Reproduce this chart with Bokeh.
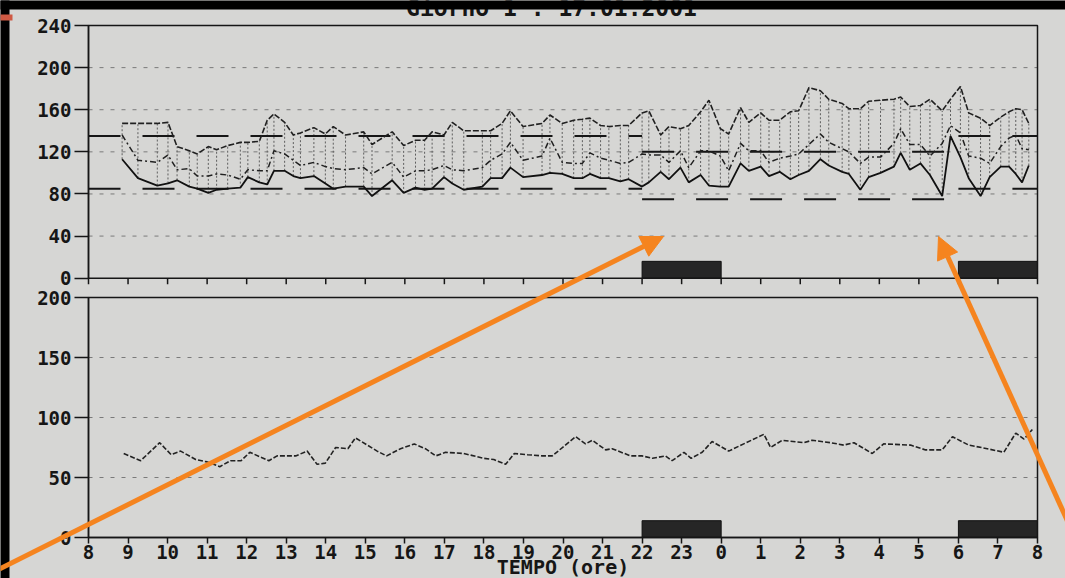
from bokeh.plotting import figure
from bokeh.models import (Range1d, FixedTicker, Arrow, NormalHead, BoxAnnotation, Label, LinearAxis)
from bokeh.embed import file_html
from bokeh.resources import INLINE

# ---------------- data (hours after 08:00) ----------------
bp_time = [0.85, 1.25, 1.74, 2.01, 2.24, 2.55, 2.75, 3.03, 3.24, 3.52, 3.84, 4.03, 4.32, 4.52, 4.69, 4.96, 5.18,
           5.36, 5.70, 5.99, 6.19, 6.50, 6.96, 7.17, 7.68, 7.97, 8.27, 8.50, 8.69, 8.99, 9.20, 9.49, 9.96,
           10.17, 10.46, 10.67, 10.99, 11.47, 11.67, 11.98, 12.27, 12.49, 12.68, 12.95, 13.16, 13.45, 13.66,
           14.00, 14.17, 14.47, 14.68, 14.97,
           15.18, 15.48, 15.69, 15.98, 16.19, 16.49, 16.70, 17.00, 17.21, 17.48, 17.75, 17.96, 18.22, 18.51,
           18.72, 19.06, 19.23, 19.52, 19.73, 20.03,
           20.37, 20.54, 20.77, 21.04, 21.28, 21.59, 21.80, 22.05, 22.26, 22.56, 22.79, 23.07, 23.28, 23.45,
           23.61, 23.78]
systolic = [147, 147, 147, 148, 125, 121, 118, 125, 122, 126, 129, 129, 130, 150, 156, 148, 136,
            138, 143, 137, 144, 136, 139, 127, 139, 126, 131, 131, 139, 136, 148, 140, 140,
            140, 147, 159, 144, 147, 155, 147, 150, 151, 152, 145, 144, 145, 145, 157, 159, 136, 144, 142,
            145, 158, 169, 142, 137, 162, 148, 157, 150, 150, 158, 159, 181, 178, 170, 166, 161, 161, 168, 169,
            170, 172, 163, 164, 170, 159, 170, 182, 157, 152, 145, 153, 158, 161, 160, 147]
mean_bp = [136, 112, 110, 117, 103, 104, 97, 97, 99, 98, 94, 103, 102, 102, 121, 118, 112,
           107, 110, 106, 104, 103, 105, 99, 110, 96, 102, 102, 103, 107, 103, 102, 105,
           112, 118, 129, 112, 116, 133, 110, 109, 109, 119, 114, 112, 109, 110, 118, 117, 117, 110, 121,
           105, 121, 121, 116, 102, 128, 121, 121, 110, 114, 116, 118, 127, 137, 129, 123, 120, 109, 115, 115,
           128, 142, 127, 127, 116, 128, 145, 138, 116, 114, 109, 125, 133, 136, 123, 122]
diastolic = [113, 95, 88, 90, 93, 87, 85, 81, 84, 85, 86, 96, 91, 89, 102, 102, 97,
             95, 97, 90, 85, 87, 87, 78, 93, 81, 86, 84, 85, 96, 90, 84, 87,
             95, 95, 105, 96, 98, 100, 99, 95, 95, 99, 95, 95, 92, 94, 87, 91, 101, 94, 105,
             91, 98, 88, 87, 87, 109, 102, 106, 97, 101, 94, 98, 102, 113, 107, 101, 99, 84, 96, 100,
             106, 119, 103, 109, 98, 78, 135, 115, 95, 78, 96, 106, 106, 99, 91, 107]

hr_time = [0.89, 1.32, 1.80, 2.09, 2.33, 2.71, 3.00, 3.32, 3.59, 3.86, 4.08, 4.56, 4.77, 5.24, 5.53, 5.78,
           5.99, 6.25, 6.56, 6.75, 7.30, 7.54, 7.89, 8.24, 8.52, 8.78, 9.03, 9.49, 10.00, 10.25, 10.55, 10.77,
           11.10, 11.47, 11.73, 12.06, 12.32, 12.57, 12.74, 13.08, 13.24, 13.71, 14.00, 14.26, 14.59, 14.76,
           15.06, 15.24, 15.52, 15.77, 16.19, 16.57, 17.08, 17.25, 17.54, 18.09, 18.30, 18.77, 19.10, 19.36,
           19.82, 20.11, 20.79, 21.17, 21.59, 21.85, 22.26, 22.73, 23.15, 23.45, 23.66, 23.87]
heart_rate = [70, 64, 79, 69, 72, 65, 63, 59, 64, 64, 71, 64, 68, 68, 72, 61, 62, 75, 74, 83,
              72, 68, 74, 78, 74, 68, 71, 70, 66, 65, 61, 70, 69, 68, 68, 77, 84, 78, 81, 73,
              74, 68, 68, 66, 68, 64, 71, 66, 71, 80, 72, 78, 86, 75, 81, 79, 81, 79, 77, 79,
              70, 78, 77, 73, 73, 84, 77, 74, 71, 87, 82, 90]

hour_ticks = list(range(25))
hour_labels = [str((8 + h) % 24) for h in hour_ticks]
bp_ticks = [0, 40, 80, 120, 160, 200, 240]
hr_ticks = [0, 50, 100, 150, 200]

limit_start = [0, 14, 22]
limit_end = [14, 22, 24]
limit_upper = [135, 120, 135]
limit_lower = [85, 75, 85]

mark_start = [14, 22]
mark_end = [16, 24]

title_text = "Giorno 1 : 17.01.2001"
x_title = "TEMPO (ore)"

# ---------------- style / geometry (canvas pixels) ----------------
BG = "#d6d6d4"
INK = "#161616"
ORANGE = "#f5841f"
FONT = "DejaVu Sans Mono"

W, H = 1065, 578
FL, FR = 88.0, 1037.0          # panel left / right
TT, TB = 25.0, 277.7           # top panel top / bottom
BT, BB = 297.0, 537.0          # bottom panel top / bottom
HOURS, BP_MAX, HR_MAX = 24.0, 240.0, 200.0

xs = (FR - FL) / HOURS
ts = (TB - TT) / BP_MAX
bs = (BB - BT) / HR_MAX


def tx(px):
    return (px - FL) / xs


def ty(py):
    return (TB - py) / ts


def by(py):
    return (BB - py) / bs


p = figure(width=W, height=H, x_range=Range1d(tx(0), tx(W)), y_range=Range1d(ty(H), ty(0)),
           output_backend="svg", toolbar_location=None, x_axis_type=None, y_axis_type=None,
           min_border_left=0, min_border_right=0, min_border_top=0, min_border_bottom=0,
           background_fill_color=BG, border_fill_color=BG, outline_line_color=None)
p.extra_y_ranges = {"hr": Range1d(by(H), by(0))}


def style_axis(ax, tick_out):
    ax.major_tick_out = tick_out
    ax.major_tick_in = 0
    ax.minor_tick_out = 0
    ax.minor_tick_in = 0
    ax.major_tick_line_width = 1.5
    ax.major_tick_line_color = INK
    ax.axis_line_width = 1.5
    ax.axis_line_color = INK
    ax.major_label_text_font = FONT
    ax.major_label_text_font_size = "19px"
    ax.major_label_text_font_style = "bold"
    ax.major_label_text_color = INK


ay_top = LinearAxis(fixed_location=0, bounds=(0, BP_MAX), ticker=FixedTicker(ticks=bp_ticks))
style_axis(ay_top, 14)
ay_top.major_label_standoff = 3
p.add_layout(ay_top, "left")

ay_bot = LinearAxis(y_range_name="hr", fixed_location=0, bounds=(0, HR_MAX), ticker=FixedTicker(ticks=hr_ticks))
style_axis(ay_bot, 14)
ay_bot.major_label_standoff = 3
p.add_layout(ay_bot, "left")

ax_bot = LinearAxis(y_range_name="hr", fixed_location=0, bounds=(0, HOURS), ticker=FixedTicker(ticks=hour_ticks),
                    major_label_overrides={h: lab for h, lab in zip(hour_ticks, hour_labels)})
style_axis(ax_bot, 6)
ax_bot.major_label_standoff = 1
p.add_layout(ax_bot, "below")

# grid lines (dotted) inside each panel
p.segment(x0=0, x1=HOURS, y0=bp_ticks[1:-1], y1=bp_ticks[1:-1],
          line_color="#7a7a7a", line_dash="4 7", line_width=1)
p.segment(x0=0, x1=HOURS, y0=hr_ticks[1:-1], y1=hr_ticks[1:-1], y_range_name="hr",
          line_color="#7a7a7a", line_dash="4 7", line_width=1)

# ---------------- top panel: blood pressure ----------------
p.segment(x0=bp_time, y0=diastolic, x1=bp_time, y1=systolic,
          line_color="#5e5e5e", line_dash="2 2", line_width=1)
p.segment(x0=limit_start, y0=limit_upper, x1=limit_end, y1=limit_upper,
          line_color=INK, line_width=2, line_dash="32 22")
p.segment(x0=limit_start, y0=limit_lower, x1=limit_end, y1=limit_lower,
          line_color=INK, line_width=2, line_dash="32 22")
p.line(bp_time, systolic, line_color="#202020", line_width=1.6, line_dash="6 2")
p.line(bp_time, mean_bp, line_color="#202020", line_width=1.5, line_dash="6 3 2 3")
p.line(bp_time, diastolic, line_color="#111111", line_width=1.8)
p.quad(left=mark_start, right=mark_end, bottom=0, top=16, fill_color="#262626", line_color="#111111")
# top panel box and its hour ticks (no labels)
p.quad(left=[0], right=[HOURS], bottom=[0], top=[BP_MAX], fill_color=None, line_color=INK, line_width=1.5)
p.segment(x0=hour_ticks, x1=hour_ticks, y0=0, y1=-6 / ts, line_color=INK, line_width=1.5)

# ---------------- bottom panel: heart rate ----------------
p.line(hr_time, heart_rate, y_range_name="hr", line_color="#222222", line_width=1.6, line_dash="5 2")
p.quad(left=mark_start, right=mark_end, bottom=0, top=14, y_range_name="hr",
       fill_color="#262626", line_color="#111111")
p.quad(left=[0], right=[HOURS], bottom=[0], top=[HR_MAX], y_range_name="hr",
       fill_color=None, line_color=INK, line_width=1.5)

p.add_layout(Label(x=(FL + FR) / 2, x_units="screen", y=by(566), y_range_name="hr", text=x_title,
                   text_font=FONT, text_font_size="20px", text_font_style="bold", text_color=INK,
                   text_align="center", text_baseline="middle"))

# ---------------- photo decorations ----------------
p.add_layout(Label(x=tx(551), y=ty(7), text=title_text, text_font=FONT, text_font_size="23px",
                   text_font_style="bold", text_color=INK, text_align="center", text_baseline="alphabetic"))
p.add_layout(BoxAnnotation(left=tx(-20), right=tx(W + 20), bottom=ty(9), top=ty(-20), fill_color="black",
                           fill_alpha=1, line_alpha=0, level="overlay"))
p.add_layout(BoxAnnotation(left=tx(-20), right=tx(9), bottom=ty(H + 20), top=ty(-20), fill_color="black",
                           fill_alpha=1, line_alpha=0, level="overlay"))
p.add_layout(BoxAnnotation(left=tx(-20), right=tx(12), bottom=ty(20), top=ty(14), fill_color="#cf5a44",
                           fill_alpha=1, line_alpha=0, level="overlay"))

arrows_px = [((-30, 583), (663, 236)), ((1103, 600), (938, 236))]
for (sx, sy), (ex, ey) in arrows_px:
    p.add_layout(Arrow(x_start=tx(sx), y_start=ty(sy), x_end=tx(ex), y_end=ty(ey),
                       line_color=ORANGE, line_width=5,
                       end=NormalHead(size=22, fill_color=ORANGE, line_color=ORANGE),
                       level="overlay"))

open("out.html", "w").write(file_html(p, INLINE))
